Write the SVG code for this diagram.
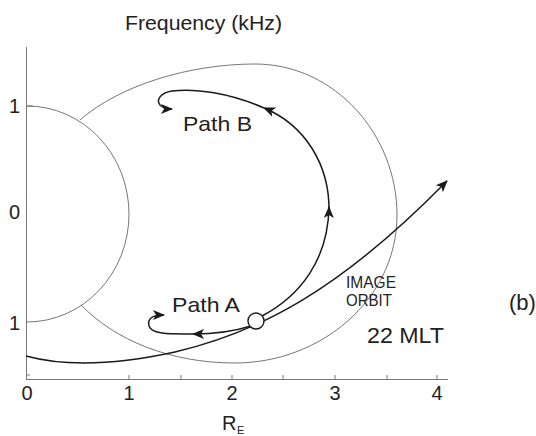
<svg xmlns="http://www.w3.org/2000/svg" width="536" height="436" viewBox="0 0 536 436">
<style>
text{font-family:"Liberation Sans",Arial,sans-serif;fill:#222}
.ax{stroke:#777;stroke-width:1;fill:none}
.thin{stroke:#666;stroke-width:0.9;fill:none}
.path{stroke:#1a1a1a;stroke-width:1.5;fill:none}
.tick{font-size:20px;text-anchor:middle}
.ytick{font-size:20px;text-anchor:end}
</style>
<defs>
<marker id="arr" markerUnits="userSpaceOnUse" markerWidth="14" markerHeight="12" refX="11" refY="5" orient="auto" viewBox="0 0 14 10">
<path d="M0,0 L12,5 L0,10 L3,5 z" fill="#1a1a1a"/>
</marker>
</defs>
<rect width="536" height="436" fill="#fff"/>
<g id="axes">
<line class="ax" x1="26.5" y1="47" x2="26.5" y2="379.5"/>
<line class="ax" x1="26" y1="379.5" x2="448" y2="379.5"/>
<line class="ax" x1="26" y1="106" x2="33" y2="106"/>
<line class="ax" x1="26" y1="375" x2="30" y2="375"/>
<line class="ax" x1="129" y1="375" x2="129" y2="379"/>
<line class="ax" x1="181" y1="375" x2="181" y2="379"/>
<line class="ax" x1="232" y1="375" x2="232" y2="379"/>
<line class="ax" x1="283" y1="375" x2="283" y2="379"/>
<line class="ax" x1="335" y1="375" x2="335" y2="379"/>
<line class="ax" x1="387" y1="375" x2="387" y2="379"/>
<line class="ax" x1="437" y1="375" x2="437" y2="379"/>
<text class="tick" x="27" y="400">0</text>
<text class="tick" x="129" y="400">1</text>
<text class="tick" x="232" y="400">2</text>
<text class="tick" x="335" y="400">3</text>
<text class="tick" x="437" y="400">4</text>
<text class="ytick" x="20" y="113">1</text>
<text class="ytick" x="20" y="219">0</text>
<text class="ytick" x="20" y="330">1</text>
<text x="125" y="30" font-size="20" textLength="157" lengthAdjust="spacingAndGlyphs">Frequency (kHz)</text>
<text x="222" y="430" font-size="20">R</text>
<text x="237" y="434" font-size="11">E</text>
</g>
<g id="inner-circle">
<path class="thin" d="M27,106 A102,108 0 0 1 27,322"/>
</g>
<g id="outer-boundary">
<path class="thin" d="M80,120 C120,85 190,64 255,64 C335,64 397,135 397,215 C397,300 320,363 235,363 C170,363 115,340 81,305"/>
</g>
<g id="connectors">
<path class="path" d="M26,356 C70,368 120,364 175,352 C260,332 340,290 447,181" marker-end="url(#arr)"/>
<path class="path" d="M251,326 C235,331 215,334 193,334" marker-end="url(#arr)"/>
<path class="path" d="M193,334 C172,334 152,335 149,326 C147,318 153,315 164,315" marker-end="url(#arr)"/>
<path class="path" d="M262,316 C300,296 328,260 329,207" marker-end="url(#arr)"/>
<path class="path" d="M329,212 C330,165 305,125 264,108" marker-end="url(#arr)"/>
<path class="path" d="M264,108 C230,93 195,88 172,91 C160,93 156,100 160,105 C163,108 167,109 172,109" marker-end="url(#arr)"/>
</g>
<g id="node">
<circle cx="256" cy="321" r="8" fill="#fff" stroke="#1a1a1a" stroke-width="1.4"/>
</g>
<g id="labels">
<text x="183" y="131" font-size="21" textLength="69" lengthAdjust="spacingAndGlyphs">Path B</text>
<text x="172" y="312" font-size="21" textLength="68" lengthAdjust="spacingAndGlyphs">Path A</text>
<text x="346" y="288" font-size="16" textLength="50" lengthAdjust="spacingAndGlyphs">IMAGE</text>
<text x="346" y="306" font-size="16" textLength="46" lengthAdjust="spacingAndGlyphs">ORBIT</text>
<text x="367" y="343" font-size="22" textLength="77" lengthAdjust="spacingAndGlyphs">22 MLT</text>
<text x="509" y="310" font-size="22">(b)</text>
</g>
</svg>
